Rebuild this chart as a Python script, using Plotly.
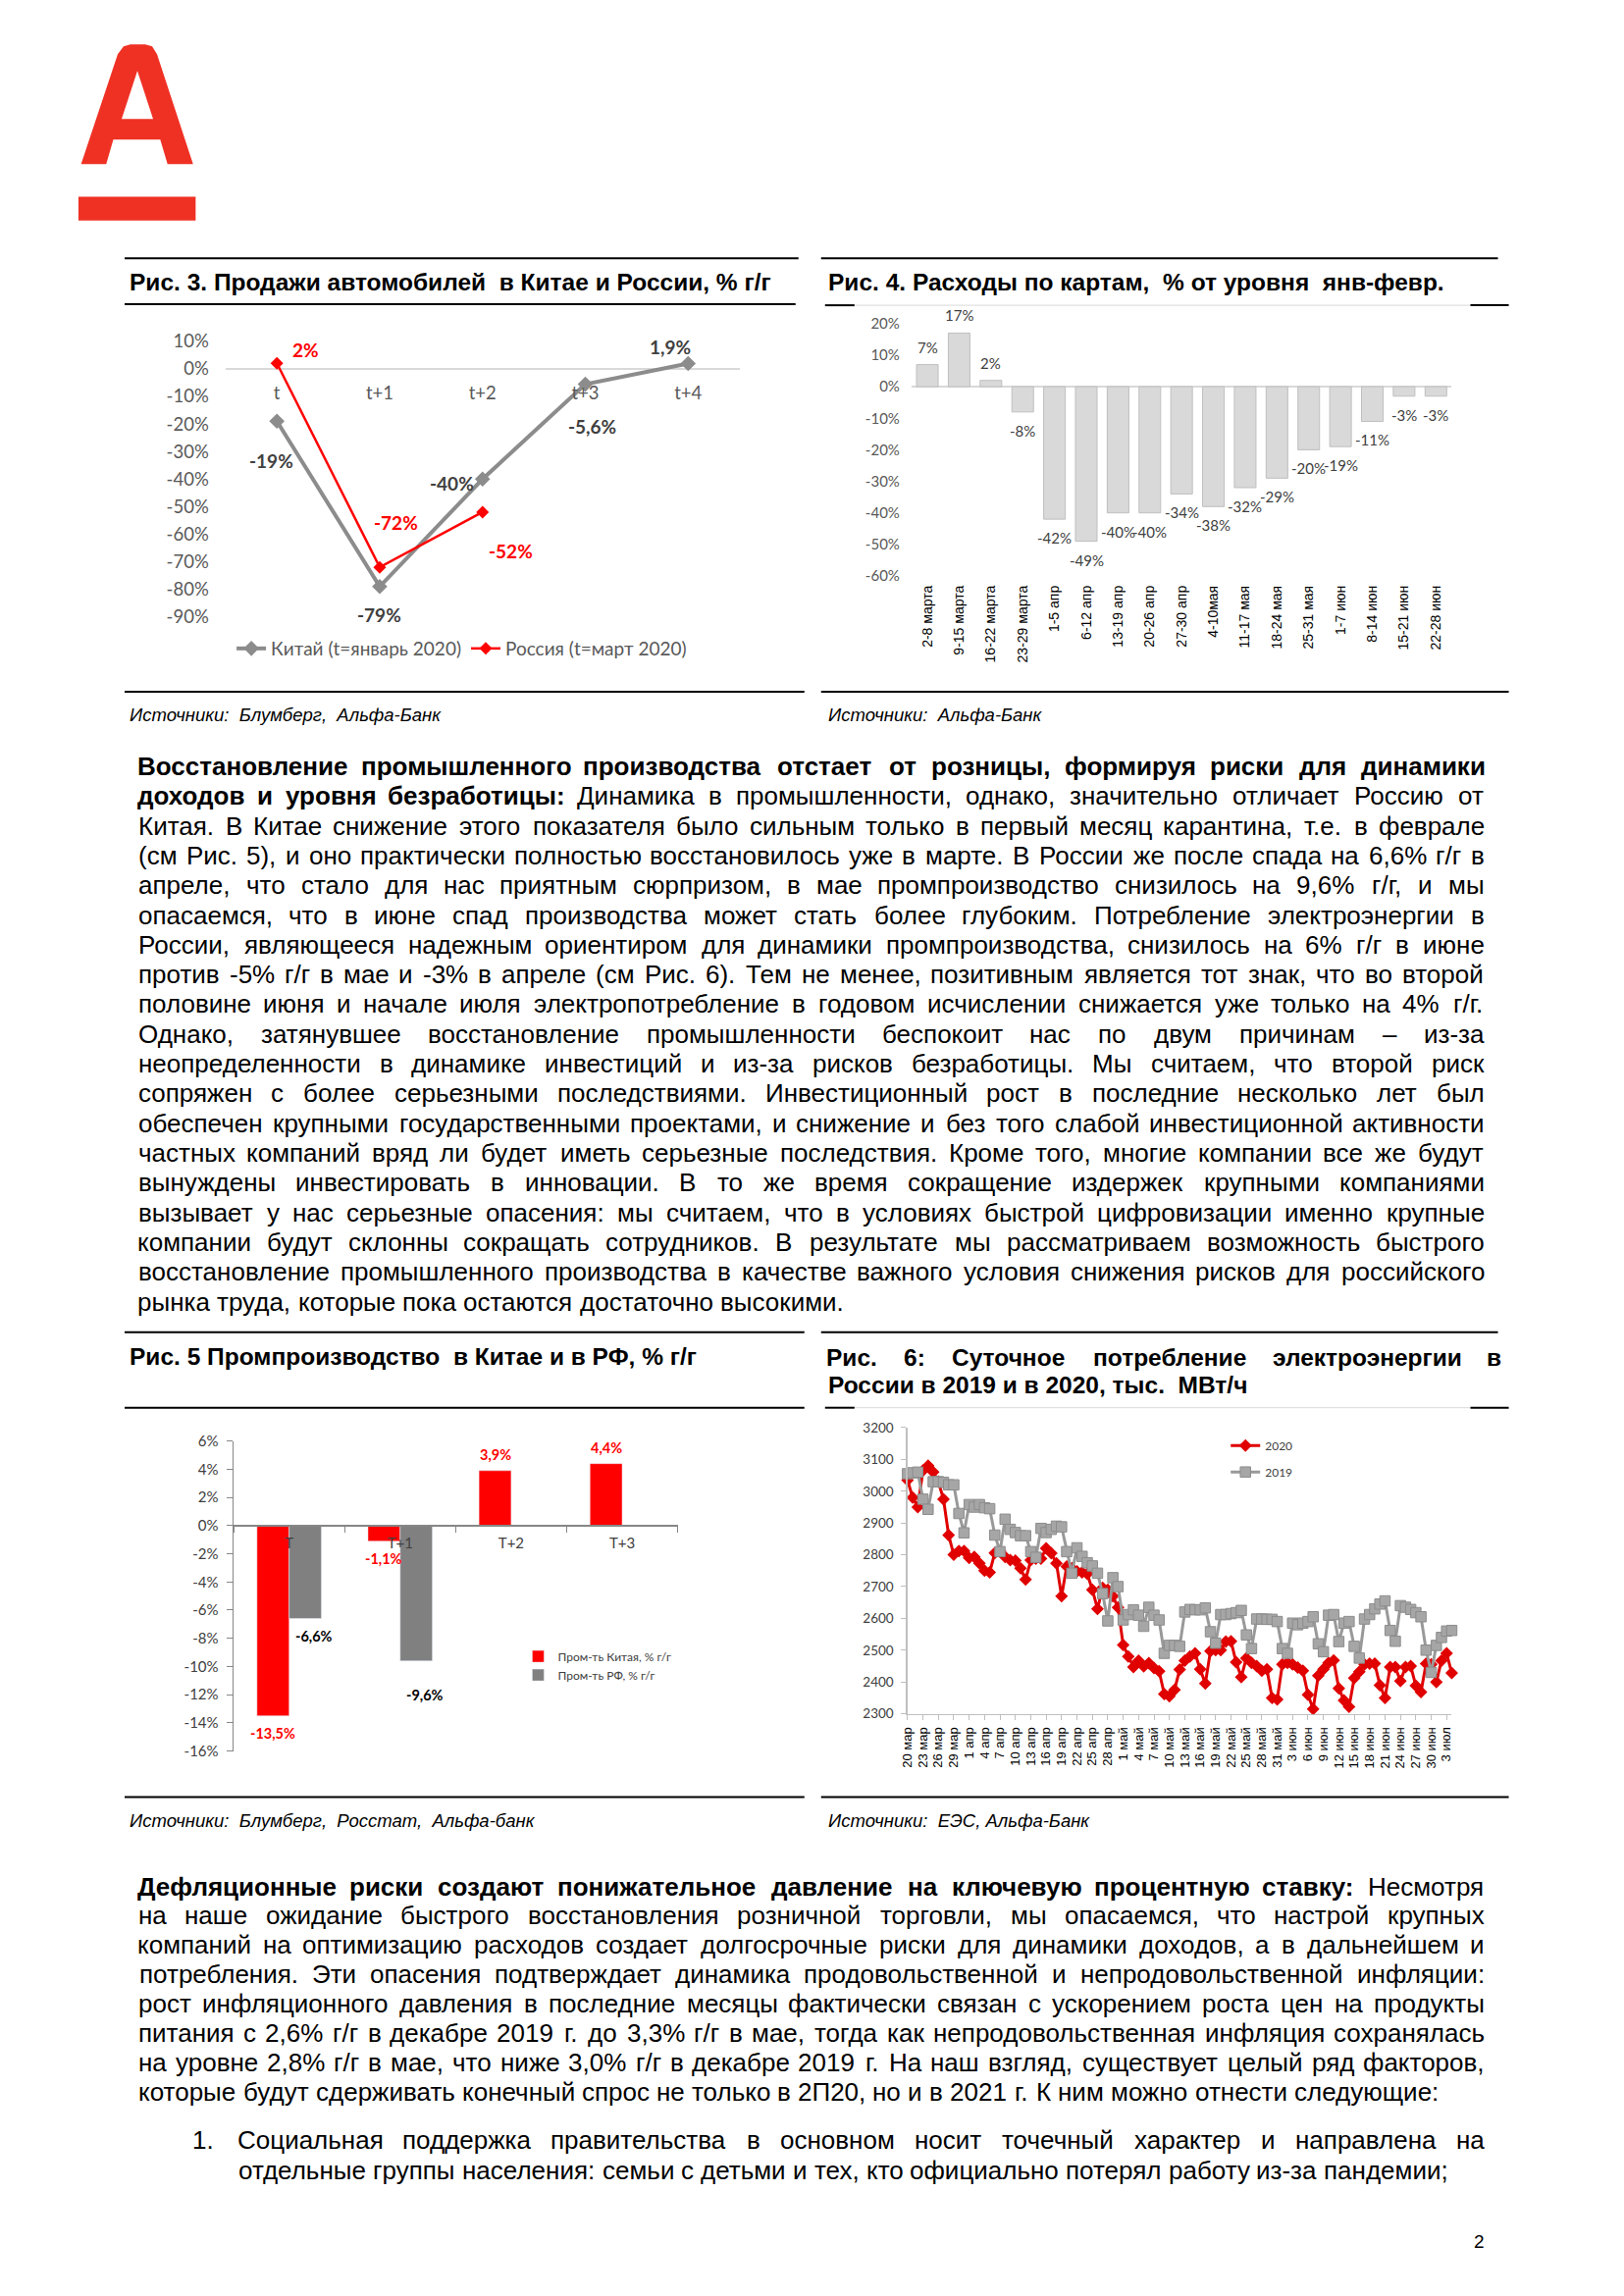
import plotly.graph_objects as go

W, H = 1655, 2340          # page size (browser window)
M = 8                       # default body margin of the page
FW, FH = W - 2 * M, H - 2 * M   # figure size so that page + margins == window
# measured placement of the figure in the final picture (scale, offset)
SX, OX = 0.9928, 8.2
SY, OY = 0.9909, 9.85

# ------------------------------------------------------------------ data
fig3_categories = ["t", "t+1", "t+2", "t+3", "t+4"]
fig3_china = [-19, -79, -40, -5.6, 1.9]
fig3_russia = [2, -72, -52, None, None]
fig3_china_name = "Китай (t=январь 2020)"
fig3_russia_name = "Россия (t=март 2020)"

fig4_weeks = ["2-8 марта", "9-15 марта", "16-22 марта", "23-29 марта", "1-5 апр",
              "6-12 апр", "13-19 апр", "20-26 апр", "27-30 апр", "4-10мая",
              "11-17 мая", "18-24 мая", "25-31 мая", "1-7 июн", "8-14 июн",
              "15-21 июн", "22-28 июн"]
fig4_values = [7, 17, 2, -8, -42, -49, -40, -40, -34, -38, -32, -29, -20, -19, -11, -3, -3]

fig5_periods = ["T", "T+1", "T+2", "T+3"]
fig5_china = [-13.5, -1.1, 3.9, 4.4]
fig5_russia = [-6.6, -9.6, None, None]
fig5_china_name = "Пром-ть Китая, % г/г"
fig5_russia_name = "Пром-ть РФ, % г/г"

fig6_tick_labels = ["20 мар", "23 мар", "26 мар", "29 мар", "1 апр", "4 апр", "7 апр",
                    "10 апр", "13 апр", "16 апр", "19 апр", "22 апр", "25 апр", "28 апр",
                    "1 май", "4 май", "7 май", "10 май", "13 май", "16 май", "19 май",
                    "22 май", "25 май", "28 май", "31 май", "3 июн", "6 июн", "9 июн",
                    "12 июн", "15 июн", "18 июн", "21 июн", "24 июн", "27 июн", "30 июн",
                    "3 июл"]
fig6_2020 = [3035, 2980, 2950, 3065, 3080, 3060, 3030, 2975, 2862, 2800,
             2812, 2812, 2790, 2793, 2773, 2750, 2745, 2806, 2812, 2793,
             2783, 2782, 2758, 2722, 2783, 2788, 2788, 2820, 2805, 2773,
             2670, 2763, 2758, 2748, 2745, 2740, 2690, 2630, 2696, 2690,
             2670, 2634, 2516, 2480, 2447, 2467, 2449, 2459, 2444, 2434,
             2362, 2355, 2375, 2439, 2467, 2480, 2490, 2440, 2395, 2497,
             2500, 2500, 2527, 2528, 2462, 2415, 2475, 2460, 2450, 2435,
             2440, 2350, 2345, 2455, 2460, 2455, 2445, 2435, 2360, 2315,
             2420, 2440, 2460, 2468, 2380, 2342, 2322, 2412, 2432, 2455,
             2458, 2458, 2390, 2350, 2447, 2447, 2403, 2447, 2450, 2388,
             2368, 2458, 2455, 2400, 2467, 2490, 2428]
fig6_2019 = [3055, 3058, 3060, 2975, 2943, 3030, 3030, 3028, 3020, 3020,
             2930, 2869, 2958, 2950, 2958, 2948, 2945, 2862, 2810, 2912,
             2880, 2870, 2860, 2860, 2810, 2792, 2883, 2870, 2880, 2890,
             2888, 2810, 2742, 2822, 2795, 2775, 2765, 2742, 2678, 2592,
             2728, 2700, 2595, 2612, 2627, 2610, 2575, 2635, 2610, 2595,
             2490, 2515, 2515, 2512, 2620, 2628, 2627, 2627, 2633, 2558,
             2522, 2612, 2612, 2615, 2618, 2625, 2548, 2505, 2598, 2598,
             2597, 2597, 2590, 2505, 2490, 2585, 2580, 2585, 2590, 2605,
             2520, 2495, 2610, 2612, 2527, 2585, 2590, 2512, 2475, 2598,
             2612, 2630, 2645, 2655, 2562, 2528, 2640, 2635, 2628, 2618,
             2605, 2500, 2430, 2515, 2540, 2560, 2562]

# ------------------------------------------------------------------ texts
title3 = "Рис. 3. Продажи автомобилей  в Китае и России, % г/г"
title4 = "Рис. 4. Расходы по картам,  % от уровня  янв-февр."
title5 = "Рис. 5 Промпроизводство  в Китае и в РФ, % г/г"
title6_line1 = "Рис. 6: Суточное потребление электроэнергии в"
title6_line2 = "России в 2019 и в 2020, тыс.  МВт/ч"
source3 = "Источники:  Блумберг,  Альфа-Банк"
source4 = "Источники:  Альфа-Банк"
source5 = "Источники:  Блумберг,  Росстат,  Альфа-банк"
source6 = "Источники:  ЕЭС, Альфа-Банк"

para1 = [
    "**Восстановление промышленного производства отстает от розницы, формируя риски для динамики**",
    "**доходов и уровня безработицы:** Динамика в промышленности, однако, значительно отличает Россию от",
    "Китая. В Китае снижение этого показателя было сильным только в первый месяц карантина, т.е. в феврале",
    "(см Рис. 5), и оно практически полностью восстановилось уже в марте. В России же после спада на 6,6% г/г в",
    "апреле, что стало для нас приятным сюрпризом, в мае промпроизводство снизилось на 9,6% г/г, и мы",
    "опасаемся, что в июне спад производства может стать более глубоким. Потребление электроэнергии в",
    "России, являющееся надежным ориентиром для динамики промпроизводства, снизилось на 6% г/г в июне",
    "против -5% г/г в мае и -3% в апреле (см Рис. 6). Тем не менее, позитивным является тот знак, что во второй",
    "половине июня и начале июля электропотребление в годовом исчислении снижается уже только на 4% г/г.",
    "Однако, затянувшее восстановление промышленности беспокоит нас по двум причинам – из-за",
    "неопределенности в динамике инвестиций и из-за рисков безработицы. Мы считаем, что второй риск",
    "сопряжен с более серьезными последствиями. Инвестиционный рост в последние несколько лет был",
    "обеспечен крупными государственными проектами, и снижение и без того слабой инвестиционной активности",
    "частных компаний вряд ли будет иметь серьезные последствия. Кроме того, многие компании все же будут",
    "вынуждены инвестировать в инновации. В то же время сокращение издержек крупными компаниями",
    "вызывает у нас серьезные опасения: мы считаем, что в условиях быстрой цифровизации именно крупные",
    "компании будут склонны сокращать сотрудников. В результате мы рассматриваем возможность быстрого",
    "восстановление промышленного производства в качестве важного условия снижения рисков для российского",
    "рынка труда, которые пока остаются достаточно высокими.",
]
para2 = [
    "**Дефляционные риски создают понижательное давление на ключевую процентную ставку:** Несмотря",
    "на наше ожидание быстрого восстановления розничной торговли, мы опасаемся, что настрой крупных",
    "компаний на оптимизацию расходов создает долгосрочные риски для динамики доходов, а в дальнейшем и",
    "потребления. Эти опасения подтверждает динамика продовольственной и непродовольственной инфляции:",
    "рост инфляционного давления в последние месяцы фактически связан с ускорением роста цен на продукты",
    "питания с 2,6% г/г в декабре 2019 г. до 3,3% г/г в мае, тогда как непродовольственная инфляция сохранялась",
    "на уровне 2,8% г/г в мае, что ниже 3,0% г/г в декабре 2019 г. На наш взгляд, существует целый ряд факторов,",
    "которые будут сдерживать конечный спрос не только в 2П20, но и в 2021 г. К ним можно отнести следующие:",
]
list_number = "1."
list_item = [
    "Социальная поддержка правительства в основном носит точечный характер и направлена на",
    "отдельные группы населения: семьи с детьми и тех, кто официально потерял работу из-за пандемии;",
]
page_number = "2"

# ------------------------------------------------------------------ helpers
def px(x):
    e = (x - OX) / SX
    return (e - M) / FW


def py(y):
    e = (y - OY) / SY
    return 1 - (e - M) / FH


_W = {}
for ch, w in zip("абвгдеёжзийклмнопрстуфхцчшщъыьэюя",
                 [556, 573, 531, 365, 583, 556, 556, 669, 458, 559, 559, 438, 583, 688, 552, 556,
                  542, 556, 500, 458, 500, 823, 500, 573, 521, 802, 823, 625, 719, 521, 510, 750, 542]):
    _W[ch] = w
for ch, w in zip("АБВГДЕЁЖЗИЙКЛМНОПРСТУФХЦЧШЩЪЫЬЭЮЯ",
                 [667, 656, 667, 542, 677, 667, 667, 923, 604, 719, 719, 583, 656, 833, 722, 778,
                  719, 667, 722, 611, 635, 760, 667, 740, 667, 917, 938, 792, 885, 656, 719, 1010, 722]):
    _W[ch] = w
for ch, w in zip("abcdefghijklmnopqrstuvwxyz",
                 [556, 556, 500, 556, 556, 278, 556, 556, 222, 222, 500, 222, 833, 556, 556, 556,
                  556, 333, 500, 278, 556, 500, 722, 500, 500, 500]):
    _W[ch] = w
for ch in "0123456789":
    _W[ch] = 556
_W.update({" ": 278, ",": 278, ".": 278, ":": 278, ";": 278, "%": 889, "(": 333, ")": 333,
           "-": 333, "/": 278, "–": 556})


def text_w(s, size, bold=False):
    tot = sum(_W.get(c, 556) for c in s)
    if bold:
        tot *= 1.07
    return tot * size / 1000.0 * SX


annotations = []
shapes = []

BODY = "Liberation Sans, Arial, sans-serif"
CHART = "Lato, Calibri, sans-serif"


def tokens_of(line):
    toks = []
    bold = False
    for w in line.split():
        if w.startswith("**"):
            bold = True
            w = w[2:]
        end = False
        if w.endswith("**"):
            w = w[:-2]
            end = True
        toks.append((w, bold))
        if end:
            bold = False
    return toks


def place_line(line, x0, x1, yc, size, justify):
    toks = tokens_of(line)
    widths = [text_w(w, size, b) for w, b in toks]
    n = len(toks)
    if justify and n > 1:
        gap = (x1 - x0 - sum(widths)) / (n - 1)
    else:
        gap = size * 0.278 * SX
    cur = x0
    for (w, b), wd in zip(toks, widths):
        annotations.append(dict(
            x=px(cur + wd / 2), y=py(yc), xref="paper", yref="paper",
            text=f"<b>{w}</b>" if b else w, showarrow=False,
            xanchor="center", yanchor="middle",
            font=dict(family=BODY, size=size, color="#000000")))
        cur += wd + gap


def text_at(x, y, text, size, color="#000000", family=BODY, xanchor="left"):
    annotations.append(dict(x=px(x), y=py(y), xref="paper", yref="paper", text=text,
                            showarrow=False, xanchor=xanchor, yanchor="middle",
                            font=dict(family=family, size=size, color=color)))


def hline(x0, x1, y, color="#000000", width=2):
    shapes.append(dict(type="line", xref="paper", yref="paper", x0=px(x0), x1=px(x1),
                       y0=py(y), y1=py(y), line=dict(color=color, width=width)))


def fmt_pct(v):
    if float(v).is_integer():
        return f"{int(v)}%"
    return f"{v:.1f}".replace(".", ",") + "%"


# ------------------------------------------------------------------ logo
def path_of(points):
    return "M " + " L ".join(f"{px(x)},{py(y)}" for x, y in points) + " Z"


logo_red = "#ef3124"
shapes.append(dict(type="path", xref="paper", yref="paper",
                   path=path_of([(82.7, 165), (120, 53), (126, 45), (133, 43), (148, 43), (155, 45),
                                 (160, 53), (196.7, 165), (170.7, 165), (163.3, 140), (115.5, 140),
                                 (108.3, 165)]),
                   fillcolor=logo_red, line=dict(width=0)))
shapes.append(dict(type="path", xref="paper", yref="paper",
                   path=path_of([(124, 119), (140, 70), (156, 119)]),
                   fillcolor="#ffffff", line=dict(width=0)))
shapes.append(dict(type="rect", xref="paper", yref="paper", x0=px(80), x1=px(199.3),
                   y0=py(222.7), y1=py(198.3), fillcolor=logo_red, line=dict(width=0)))

# ------------------------------------------------------------------ rules
hline(127, 813, 261)
hline(127, 810, 308)
hline(127, 819, 703)
hline(836, 1525, 261)
hline(870, 1497, 309, color="#d9d9d9", width=1)
hline(840, 870, 309)
hline(1497, 1536, 309)
hline(836, 1536, 703)
hline(127, 819, 1356)
hline(127, 819, 1433)
hline(127, 819, 1830)
hline(836, 1525, 1356)
hline(870, 1497, 1433, color="#d9d9d9", width=1)
hline(840, 870, 1433)
hline(1497, 1536, 1433)
hline(836, 1536, 1830)

# ------------------------------------------------------------------ titles / sources
TS = 24.5
text_at(130, 285, f"<b>{title3}</b>", TS)
text_at(841, 285, f"<b>{title4}</b>", TS)
text_at(130, 1381, f"<b>{title5}</b>", TS)
place_line("**" + title6_line1 + "**", 841, 1528, 1382, TS, True)
text_at(841, 1410, f"<b>{title6_line2}</b>", TS)
text_at(130, 727, f"<i>{source3}</i>", 18.5)
text_at(841, 727, f"<i>{source4}</i>", 18.5)
text_at(130, 1854, f"<i>{source5}</i>", 18.5)
text_at(841, 1854, f"<i>{source6}</i>", 18.5)
text_at(1513, 2283, page_number, 19, xanchor="right")

# ------------------------------------------------------------------ paragraphs
BS = 26
for i, line in enumerate(para1):
    place_line(line, 141, 1511, 779 + i * 30.33, BS, i < len(para1) - 1)
for i, line in enumerate(para2):
    place_line(line, 141, 1511, 1921 + i * 29.9, BS, i < len(para2) - 1)
text_at(194, 2180, list_number, BS)
for i, line in enumerate(list_item):
    place_line(line, 242, 1511, 2180 + i * 30.5, BS, i < len(list_item) - 1)

# ------------------------------------------------------------------ figure
fig = go.Figure()

# Chart 3 -----------------------------------------------------------
fig.add_trace(go.Scatter(
    x=fig3_categories, y=fig3_china, name=fig3_china_name, mode="lines+markers",
    line=dict(color="#8c8c8c", width=4), marker=dict(symbol="diamond", size=12, color="#8c8c8c"),
    xaxis="x", yaxis="y", legend="legend", cliponaxis=False, hoverinfo="skip"))
fig.add_trace(go.Scatter(
    x=fig3_categories, y=fig3_russia, name=fig3_russia_name, mode="lines+markers",
    line=dict(color="#ff0000", width=2.5), marker=dict(symbol="diamond", size=10, color="#ff0000"),
    xaxis="x", yaxis="y", legend="legend", cliponaxis=False, hoverinfo="skip"))

china_offsets = [(-6, 40), (0, 29), (-31, 4), (7, 43), (-18, -17)]
russia_offsets = [(29, -14), (17, -46), (29, 40)]
for cat, v, (dx, dy) in zip(fig3_categories, fig3_china, china_offsets):
    annotations.append(dict(x=cat, y=v, xref="x", yref="y", text=f"<b>{fmt_pct(v)}</b>",
                            showarrow=False, xshift=dx, yshift=-dy,
                            font=dict(family=CHART, size=19, color="#404040")))
for cat, v, (dx, dy) in zip(fig3_categories, fig3_russia, russia_offsets):
    if v is None:
        continue
    annotations.append(dict(x=cat, y=v, xref="x", yref="y", text=f"<b>{fmt_pct(v)}</b>",
                            showarrow=False, xshift=dx, yshift=-dy,
                            font=dict(family=CHART, size=19, color="#ff0000")))

fig3_ticks = list(range(-90, 11, 10))

# Chart 4 -----------------------------------------------------------
fig4_x = list(range(len(fig4_values)))
fig.add_trace(go.Bar(
    x=fig4_x, y=fig4_values, width=0.68, marker=dict(color="#d9d9d9", line=dict(color="#bfbfbf", width=1)),
    xaxis="x2", yaxis="y2", showlegend=False, hoverinfo="skip"))
for i, v in zip(fig4_x, fig4_values):
    annotations.append(dict(x=i, y=v, xref="x2", yref="y2", text=fmt_pct(v), showarrow=False,
                            yanchor="bottom" if v >= 0 else "top", yshift=7 if v >= 0 else -8,
                            font=dict(family=CHART, size=15, color="#404040")))
fig4_ticks = list(range(-60, 21, 10))

# Chart 5 -----------------------------------------------------------
BARGAP5 = 0.42
bw5 = (1 - BARGAP5) / 2
fig.add_trace(go.Bar(
    x=fig5_periods, y=fig5_china, name=fig5_china_name, marker=dict(color="#ff0000"),
    xaxis="x3", yaxis="y3", legend="legend2", hoverinfo="skip"))
fig.add_trace(go.Bar(
    x=fig5_periods, y=fig5_russia, name=fig5_russia_name, marker=dict(color="#808080"),
    xaxis="x3", yaxis="y3", legend="legend2", hoverinfo="skip"))
china5_offsets = [(0, 18), (0, 18), (0, -16), (0, -16)]
russia5_offsets = [(9, 18), (9, 35)]
for i, (v, (dx, dy)) in enumerate(zip(fig5_china, china5_offsets)):
    annotations.append(dict(x=i - bw5 / 2, y=v, xref="x3", yref="y3", text=f"<b>{fmt_pct(v)}</b>",
                            showarrow=False, yanchor="middle", xshift=dx, yshift=-dy,
                            font=dict(family=CHART, size=14.5, color="#ff0000")))
for i, (v, (dx, dy)) in enumerate(zip(fig5_russia, russia5_offsets)):
    if v is None:
        continue
    annotations.append(dict(x=i + bw5 / 2, y=v, xref="x3", yref="y3", text=f"<b>{fmt_pct(v)}</b>",
                            showarrow=False, yanchor="middle", xshift=dx, yshift=-dy,
                            font=dict(family=CHART, size=14.5, color="#000000")))
fig5_ticks = list(range(-16, 7, 2))

# Chart 6 -----------------------------------------------------------
fig6_x = list(range(len(fig6_2020)))
fig.add_trace(go.Scatter(
    x=fig6_x, y=fig6_2020, name="2020", mode="lines+markers",
    line=dict(color="#e00000", width=3), marker=dict(symbol="diamond", size=10, color="#e00000"),
    xaxis="x4", yaxis="y4", legend="legend3", legendgroup="a", cliponaxis=False, hoverinfo="skip"))
fig.add_trace(go.Scatter(
    x=fig6_x, y=fig6_2019, name="2019", mode="lines+markers",
    line=dict(color="#999999", width=3),
    marker=dict(symbol="square", size=10.5, color="#a6a6a6", line=dict(color="#8c8c8c", width=1)),
    xaxis="x4", yaxis="y4", legend="legend3", legendgroup="b", cliponaxis=False, hoverinfo="skip"))
fig6_tickvals = fig6_x[::3][:len(fig6_tick_labels)]

# ------------------------------------------------------------------ layout
fig.update_layout(
    width=FW, height=FH, autosize=False,
    margin=dict(l=0, r=0, t=0, b=0, pad=0),
    paper_bgcolor="#ffffff", plot_bgcolor="rgba(0,0,0,0)",
    font=dict(family=BODY, color="#000000"),
    barmode="group", bargap=BARGAP5, bargroupgap=0,
    shapes=shapes, annotations=annotations,
    xaxis=dict(domain=[px(229.7), px(753)], type="category", range=[-0.5, 4.5],
               anchor="free", position=py(373.8), showline=False, ticks="", showgrid=False,
               zeroline=False, tickfont=dict(family=CHART, size=18.5, color="#595959"),
               ticklabelstandoff=12, fixedrange=True),
    yaxis=dict(domain=[py(626.7), py(345.7)], range=[-90, 10], anchor="x",
               tickvals=fig3_ticks, ticktext=[f"{v}%" for v in fig3_ticks],
               showgrid=False, showline=False, ticks="", zeroline=True,
               zerolinecolor="#d9d9d9", zerolinewidth=2,
               tickfont=dict(family=CHART, size=18.5, color="#595959"),
               ticklabelstandoff=16, fixedrange=True),
    xaxis2=dict(domain=[px(928), px(1478)], range=[-0.5, 16.5], anchor="y2",
                tickvals=fig4_x, ticktext=fig4_weeks, tickangle=-90, showline=False,
                ticks="", showgrid=False, zeroline=False,
                tickfont=dict(family=BODY, size=14, color="#000000"),
                ticklabelstandoff=6, fixedrange=True),
    yaxis2=dict(domain=[py(585), py(327.7)], range=[-60, 20], anchor="x2",
                tickvals=fig4_ticks, ticktext=[f"{v}%" for v in fig4_ticks],
                showgrid=False, showline=False, ticks="", zeroline=True,
                zerolinecolor="#d9d9d9", zerolinewidth=2,
                tickfont=dict(family=CHART, size=15, color="#595959"),
                ticklabelstandoff=11, fixedrange=True),
    xaxis3=dict(domain=[px(238), px(690)], type="category", range=[-0.5, 3.5],
                anchor="free", position=py(1552.7), showline=True, linecolor="#868686",
                linewidth=1.5, ticks="outside", ticklen=6, tickcolor="#868686",
                tickson="boundaries", showgrid=False, zeroline=False,
                tickfont=dict(family=CHART, size=15, color="#404040"),
                ticklabelstandoff=4, fixedrange=True),
    yaxis3=dict(domain=[py(1783), py(1467)], range=[-16, 6], anchor="x3",
                tickvals=fig5_ticks, ticktext=[f"{v}%" for v in fig5_ticks],
                showgrid=False, showline=True, linecolor="#868686", linewidth=1.5,
                ticks="outside", ticklen=6, tickcolor="#868686", zeroline=False,
                tickfont=dict(family=CHART, size=15, color="#404040"),
                ticklabelstandoff=5, fixedrange=True),
    xaxis4=dict(domain=[px(924), px(1478)], range=[0, len(fig6_x) - 1], anchor="y4",
                tickvals=fig6_tickvals, ticktext=fig6_tick_labels, tickangle=-90,
                showline=True, linecolor="#bfbfbf", linewidth=1.5, ticks="outside", ticklen=5,
                tickcolor="#bfbfbf", showgrid=False, zeroline=False,
                tickfont=dict(family=BODY, size=13, color="#000000"),
                ticklabelstandoff=2, fixedrange=True),
    yaxis4=dict(domain=[py(1745), py(1453.3)], range=[2300, 3200], anchor="x4",
                dtick=100, showline=True, linecolor="#bfbfbf", linewidth=1.5,
                ticks="outside", ticklen=5, tickcolor="#bfbfbf", showgrid=False,
                zeroline=False, tickfont=dict(family=CHART, size=13.5, color="#404040"),
                ticklabelstandoff=5, fixedrange=True),
    legend=dict(x=px(236), y=py(659), xanchor="left", yanchor="middle", orientation="h",
                font=dict(family=CHART, size=19, color="#595959"), bgcolor="rgba(0,0,0,0)",
                itemwidth=30, traceorder="normal"),
    legend2=dict(x=px(528), y=py(1672), xanchor="left", yanchor="top", orientation="v",
                 font=dict(family=CHART, size=12, color="#404040"), bgcolor="rgba(0,0,0,0)",
                 traceorder="normal", itemwidth=30),
    legend3=dict(x=px(1248), y=py(1457), xanchor="left", yanchor="top", orientation="v",
                 font=dict(family=CHART, size=12, color="#404040"), bgcolor="rgba(0,0,0,0)",
                 traceorder="grouped", tracegroupgap=8, itemwidth=30),
)

fig.write_html("out.html", config={"displayModeBar": False, "staticPlot": True})
